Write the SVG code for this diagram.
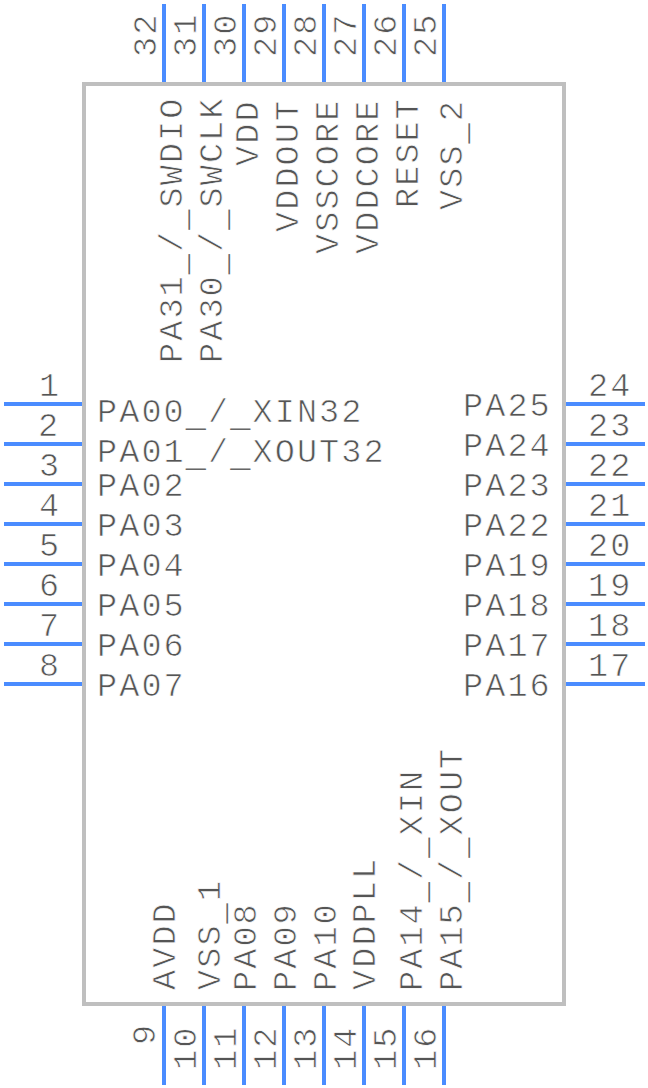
<svg xmlns="http://www.w3.org/2000/svg" width="648" height="1088" viewBox="0 0 648 1088">
<style>
text{font-family:"Liberation Mono",monospace;font-size:33.5px;fill:#555;letter-spacing:2.1px;stroke:#fff;stroke-width:.7px}
.n{text-anchor:middle}
.u{stroke:none;fill:#666}
#conn line{stroke:#4a8cff;stroke-width:4}
</style>
<rect width="648" height="1088" fill="#fff"/>
<g id="body"><rect x="84" y="84" width="480" height="920" fill="none" stroke="#bfbfbf" stroke-width="4"/></g>
<g id="conn">
<line x1="4" y1="404" x2="82" y2="404"/><line x1="4" y1="444" x2="82" y2="444"/><line x1="4" y1="484" x2="82" y2="484"/><line x1="4" y1="524" x2="82" y2="524"/><line x1="4" y1="564" x2="82" y2="564"/><line x1="4" y1="604" x2="82" y2="604"/><line x1="4" y1="644" x2="82" y2="644"/><line x1="4" y1="684" x2="82" y2="684"/>
<line x1="566" y1="404" x2="645" y2="404"/><line x1="566" y1="444" x2="645" y2="444"/><line x1="566" y1="484" x2="645" y2="484"/><line x1="566" y1="524" x2="645" y2="524"/><line x1="566" y1="564" x2="645" y2="564"/><line x1="566" y1="604" x2="645" y2="604"/><line x1="566" y1="644" x2="645" y2="644"/><line x1="566" y1="684" x2="645" y2="684"/>
<line x1="164" y1="4" x2="164" y2="82"/><line x1="204" y1="4" x2="204" y2="82"/><line x1="244" y1="4" x2="244" y2="82"/><line x1="284" y1="4" x2="284" y2="82"/><line x1="324" y1="4" x2="324" y2="82"/><line x1="364" y1="4" x2="364" y2="82"/><line x1="404" y1="4" x2="404" y2="82"/><line x1="444" y1="4" x2="444" y2="82"/>
<line x1="164" y1="1006" x2="164" y2="1085"/><line x1="204" y1="1006" x2="204" y2="1085"/><line x1="244" y1="1006" x2="244" y2="1085"/><line x1="284" y1="1006" x2="284" y2="1085"/><line x1="324" y1="1006" x2="324" y2="1085"/><line x1="364" y1="1006" x2="364" y2="1085"/><line x1="404" y1="1006" x2="404" y2="1085"/><line x1="444" y1="1006" x2="444" y2="1085"/>
</g>
<g id="pin1"><text class="n" x="50" y="396">1</text><text x="97" y="422">PA00<tspan class="u" dy="4">_</tspan><tspan dy="-4">/</tspan><tspan class="u" dy="4">_</tspan><tspan dy="-4">XIN32</tspan></text></g>
<g id="pin2"><text class="n" x="49" y="436">2</text><text x="97" y="462">PA01<tspan class="u" dy="4">_</tspan><tspan dy="-4">/</tspan><tspan class="u" dy="4">_</tspan><tspan dy="-4">XOUT32</tspan></text></g>
<g id="pin3"><text class="n" x="50" y="476">3</text><text x="97" y="496">PA02</text></g>
<g id="pin4"><text class="n" x="50" y="516">4</text><text x="97" y="536">PA03</text></g>
<g id="pin5"><text class="n" x="50" y="556">5</text><text x="97" y="576">PA04</text></g>
<g id="pin6"><text class="n" x="50" y="596">6</text><text x="97" y="616">PA05</text></g>
<g id="pin7"><text class="n" x="50" y="636">7</text><text x="97" y="656">PA06</text></g>
<g id="pin8"><text class="n" x="50" y="676">8</text><text x="97" y="696">PA07</text></g>
<g id="pin24"><text x="588" y="396">24</text><text x="463" y="416">PA25</text></g>
<g id="pin23"><text x="588" y="436">23</text><text x="463" y="456">PA24</text></g>
<g id="pin22"><text x="588" y="476">22</text><text x="463" y="496">PA23</text></g>
<g id="pin21"><text x="588" y="516">21</text><text x="463" y="536">PA22</text></g>
<g id="pin20"><text x="588" y="556">20</text><text x="463" y="576">PA19</text></g>
<g id="pin19"><text x="588" y="596">19</text><text x="463" y="616">PA18</text></g>
<g id="pin18"><text x="588" y="636">18</text><text x="463" y="656">PA17</text></g>
<g id="pin17"><text x="588" y="676">17</text><text x="463" y="696">PA16</text></g>
<g id="pin32"><text transform="translate(156,57) rotate(-90)">32</text><text transform="translate(182,363) rotate(-90)">PA31<tspan class="u" dy="4">_</tspan><tspan dy="-4">/</tspan><tspan class="u" dy="4">_</tspan><tspan dy="-4">SWDIO</tspan></text></g>
<g id="pin31"><text transform="translate(196,57) rotate(-90)">31</text><text transform="translate(222,363) rotate(-90)">PA30<tspan class="u" dy="4">_</tspan><tspan dy="-4">/</tspan><tspan class="u" dy="4">_</tspan><tspan dy="-4">SWCLK</tspan></text></g>
<g id="pin30"><text transform="translate(236,57) rotate(-90)">30</text><text transform="translate(258,166) rotate(-90)">VDD</text></g>
<g id="pin29"><text transform="translate(276,57) rotate(-90)">29</text><text transform="translate(298,232) rotate(-90)">VDDOUT</text></g>
<g id="pin28"><text transform="translate(316,57) rotate(-90)">28</text><text transform="translate(338,254) rotate(-90)">VSSCORE</text></g>
<g id="pin27"><text transform="translate(356,57) rotate(-90)">27</text><text transform="translate(378,254) rotate(-90)">VDDCORE</text></g>
<g id="pin26"><text transform="translate(396,57) rotate(-90)">26</text><text transform="translate(418,208) rotate(-90)">RESET</text></g>
<g id="pin25"><text transform="translate(436,57) rotate(-90)">25</text><text transform="translate(462,210) rotate(-90)">VSS<tspan class="u" dy="4">_</tspan><tspan dy="-4">2</tspan></text></g>
<g id="pin9"><text transform="translate(155,1045) rotate(-90)">9</text><text transform="translate(175,990) rotate(-90)">AVDD</text></g>
<g id="pin10"><text transform="translate(196,1070) rotate(-90)">10</text><text transform="translate(220,990) rotate(-90)">VSS<tspan class="u" dy="4">_</tspan><tspan dy="-4">1</tspan></text></g>
<g id="pin11"><text transform="translate(236,1070) rotate(-90)">11</text><text transform="translate(256,991) rotate(-90)">PA08</text></g>
<g id="pin12"><text transform="translate(276,1070) rotate(-90)">12</text><text transform="translate(296,991) rotate(-90)">PA09</text></g>
<g id="pin13"><text transform="translate(316,1070) rotate(-90)">13</text><text transform="translate(336,991) rotate(-90)">PA10</text></g>
<g id="pin14"><text transform="translate(356,1070) rotate(-90)">14</text><text transform="translate(375,990) rotate(-90)">VDDPLL</text></g>
<g id="pin15"><text transform="translate(396,1070) rotate(-90)">15</text><text transform="translate(422,991) rotate(-90)">PA14<tspan class="u" dy="4">_</tspan><tspan dy="-4">/</tspan><tspan class="u" dy="4">_</tspan><tspan dy="-4">XIN</tspan></text></g>
<g id="pin16"><text transform="translate(436,1070) rotate(-90)">16</text><text transform="translate(462,991) rotate(-90)">PA15<tspan class="u" dy="4">_</tspan><tspan dy="-4">/</tspan><tspan class="u" dy="4">_</tspan><tspan dy="-4">XOUT</tspan></text></g>
</svg>
